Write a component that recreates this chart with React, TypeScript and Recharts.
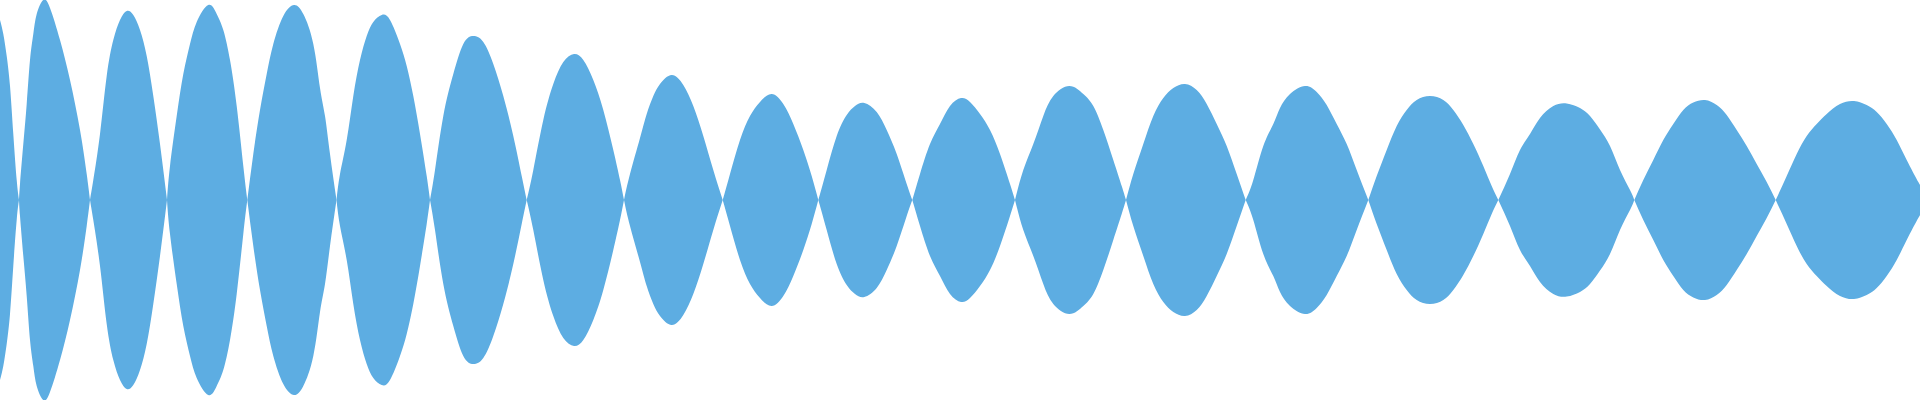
import React from 'react';
import { AreaChart, Area, XAxis, YAxis } from 'recharts';

// sample time (ms) and envelope amplitude (0..1)
// a 0 marks a zero crossing between two lobes
const TIME_MS = [
    0, 3.3, 6.7, 10, 13.3, 16.7, 19,
    20, 23.3, 26.7, 30, 33.3, 36.7, 43.3, 50, 60, 70, 80, 86.7, 90,
    93.3, 100, 106.7, 113.3, 120, 126.7, 133.3, 140, 146.7, 153.3, 160, 167,
    170, 176.7, 183.3, 190, 196.7, 208.3, 216.7, 223.3, 230, 236.7, 243.3, 247.3,
    253.3, 260, 266.7, 273.3, 283.3, 294, 303.3, 313.3, 320, 325, 330, 336.5,
    340, 346.7, 353.3, 360, 366.7, 373.3, 381.7, 390, 400, 406.7, 413.3, 420, 426.7, 430,
    435, 443.3, 453.3, 463.3, 473.3, 483.3, 493.3, 503.3, 513.3, 521.7, 526.7,
    533.3, 543.3, 553.3, 563.3, 574, 583.3, 593.3, 603.3, 613.3, 620, 624,
    630, 640, 646.7, 653.3, 660, 671.7, 683.3, 693.3, 703.3, 713.3, 722.7,
    730, 740, 750, 760, 771.7, 783.3, 793.3, 803.3, 811.7, 818.3,
    826.7, 836.7, 846.7, 855, 864.3, 876.7, 886.7, 896.7, 906.7, 912.3,
    920, 930, 940, 950, 961, 970, 980, 990, 1000, 1010, 1015,
    1023.3, 1033.3, 1043.3, 1053.3, 1069.3, 1083.3, 1093.3, 1103.3, 1113.3, 1121.7, 1126,
    1133.3, 1143.3, 1153.3, 1163.3, 1173.3, 1185, 1196.7, 1206.7, 1216.7, 1226.7, 1236.7, 1245.7,
    1253.3, 1263.3, 1273.3, 1280, 1290, 1305, 1316.7, 1326.7, 1336.7, 1346.7, 1356.7, 1368.3,
    1376.7, 1386.7, 1396.7, 1406.7, 1416.7, 1430, 1443.3, 1453.3, 1463.3, 1473.3, 1483.3, 1491.7, 1498.3,
    1510, 1520, 1530, 1540, 1553.3, 1566.7, 1580, 1590, 1600, 1610, 1620, 1630, 1634.3,
    1643.3, 1653.3, 1663.3, 1673.3, 1683.3, 1693.3, 1705, 1716.7, 1726.7, 1736.7, 1746.7, 1756.7, 1766.7, 1775.7,
    1786.7, 1796.7, 1806.7, 1816.7, 1826.7, 1840, 1854, 1866.7, 1876.7, 1886.7, 1896.7, 1906.7, 1918.3, 1920,
];

const AMPLITUDE = [
    0.9, 0.83, 0.72, 0.57, 0.33, 0.1, 0,
    0.08, 0.28, 0.48, 0.7, 0.83, 0.93, 1.0, 0.96, 0.8, 0.6, 0.35, 0.13, 0,
    0.1, 0.33, 0.62, 0.8, 0.9, 0.945, 0.925, 0.85, 0.72, 0.52, 0.28, 0,
    0.17, 0.42, 0.63, 0.78, 0.89, 0.975, 0.93, 0.85, 0.7, 0.47, 0.17, 0,
    0.23, 0.45, 0.63, 0.78, 0.92, 0.975, 0.93, 0.78, 0.56, 0.42, 0.23, 0,
    0.13, 0.3, 0.52, 0.7, 0.82, 0.89, 0.925, 0.9, 0.78, 0.67, 0.52, 0.33, 0.12, 0,
    0.15, 0.42, 0.63, 0.78, 0.82, 0.79, 0.68, 0.52, 0.32, 0.12, 0,
    0.15, 0.4, 0.58, 0.69, 0.73, 0.7, 0.6, 0.45, 0.25, 0.1, 0,
    0.13, 0.31, 0.43, 0.52, 0.58, 0.625, 0.575, 0.47, 0.32, 0.15, 0,
    0.13, 0.3, 0.42, 0.49, 0.53, 0.48, 0.38, 0.25, 0.12, 0,
    0.15, 0.32, 0.425, 0.47, 0.485, 0.44, 0.35, 0.23, 0.08, 0,
    0.13, 0.28, 0.38, 0.47, 0.51, 0.49, 0.43, 0.35, 0.23, 0.08, 0,
    0.15, 0.28, 0.42, 0.52, 0.57, 0.53, 0.47, 0.35, 0.2, 0.07, 0,
    0.13, 0.28, 0.42, 0.51, 0.56, 0.58, 0.55, 0.48, 0.38, 0.27, 0.13, 0,
    0.1, 0.27, 0.38, 0.46, 0.53, 0.57, 0.54, 0.475, 0.38, 0.28, 0.15, 0,
    0.12, 0.25, 0.37, 0.45, 0.5, 0.52, 0.5, 0.45, 0.375, 0.28, 0.17, 0.07, 0,
    0.13, 0.25, 0.33, 0.41, 0.47, 0.483, 0.46, 0.42, 0.353, 0.27, 0.15, 0.05, 0,
    0.1, 0.2, 0.3, 0.38, 0.45, 0.487, 0.5, 0.475, 0.425, 0.35, 0.27, 0.18, 0.09, 0,
    0.12, 0.23, 0.32, 0.38, 0.43, 0.48, 0.495, 0.475, 0.44, 0.38, 0.3, 0.2, 0.09, 0.08,
];

const FILL = '#5DADE2';

// split into alternating lobes so each crossing stays a sharp point
const buildRows = () => {
    let zeros = 0;
    return TIME_MS.map((t, i) => {
        const a = AMPLITUDE[i];
        const range = [-a, a];
        const isCrossing = a === 0 && i > 0;
        const lobe = zeros;
        if (isCrossing) zeros += 1;
        const even = isCrossing || lobe % 2 === 0 ? range : null;
        const odd = isCrossing || lobe % 2 === 1 ? range : null;
        return { t, even, odd };
    });
};

const App = () => {
    const rows = buildRows();
    return (
        <div style={{ position: 'absolute', left: 0, top: 0, width: 1920, height: 400, background: '#fff' }}>
            <AreaChart width={1920} height={400} data={rows} margin={{ top: 0, right: 0, bottom: 0, left: 0 }}>
                <XAxis dataKey="t" type="number" domain={[0, 1920]} hide />
                <YAxis type="number" domain={[-1, 1]} hide />
                <Area
                    type="natural"
                    dataKey="even"
                    stroke="none"
                    fill={FILL}
                    fillOpacity={1}
                    dot={false}
                    activeDot={false}
                    connectNulls={false}
                    isAnimationActive={false}
                />
                <Area
                    type="natural"
                    dataKey="odd"
                    stroke="none"
                    fill={FILL}
                    fillOpacity={1}
                    dot={false}
                    activeDot={false}
                    connectNulls={false}
                    isAnimationActive={false}
                />
            </AreaChart>
        </div>
    );
};

export default App;
